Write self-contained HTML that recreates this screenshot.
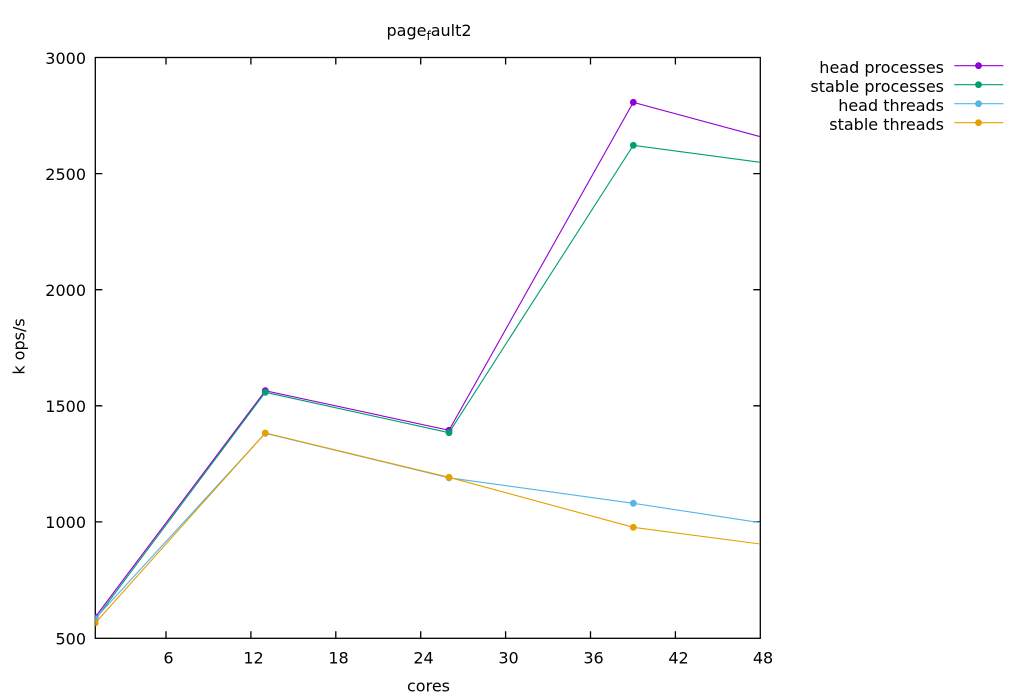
<!DOCTYPE html>
<html>
<head>
<meta charset="utf-8">
<style>
html,body{margin:0;padding:0;background:#fff;}
svg{display:block;}
text{font-family:"DejaVu Sans","Liberation Sans",sans-serif;font-size:16px;fill:#000;}
</style>
</head>
<body>
<svg width="1024" height="700" viewBox="0 0 1024 700" xmlns="http://www.w3.org/2000/svg">
<rect width="1024" height="700" fill="#fff"/>
<defs>
<clipPath id="pc"><rect x="95.3" y="57.5" width="665" height="581"/></clipPath>
</defs>

<!-- title -->
<text x="386.5" y="36">page<tspan font-size="12" dy="4">f</tspan><tspan dy="-4">ault2</tspan></text>

<!-- axes frame -->
<g stroke="#000" stroke-width="1.3" fill="none">
<rect x="95.3" y="57.5" width="665" height="580.8"/>
<path d="M95.3 521.9h7M95.3 405.8h7M95.3 289.7h7M95.3 173.6h7
         M760.3 521.9h-7M760.3 405.8h-7M760.3 289.7h-7M760.3 173.6h-7"/>
<path d="M166 638.3v-7M250.9 638.3v-7M335.8 638.3v-7M420.7 638.3v-7M505.6 638.3v-7M590.5 638.3v-7M675.4 638.3v-7
         M166 57.5v7M250.9 57.5v7M335.8 57.5v7M420.7 57.5v7M505.6 57.5v7M590.5 57.5v7M675.4 57.5v7"/>
</g>

<!-- y tick labels -->
<g text-anchor="end">
<text x="86" y="644.3">500</text>
<text x="86" y="528">1000</text>
<text x="86" y="412">1500</text>
<text x="86" y="296">2000</text>
<text x="86" y="180">2500</text>
<text x="86" y="64">3000</text>
</g>

<!-- x tick labels -->
<g text-anchor="middle">
<text x="168.5" y="663.5">6</text>
<text x="253.5" y="663.5">12</text>
<text x="338.5" y="663.5">18</text>
<text x="423.5" y="663.5">24</text>
<text x="508.5" y="663.5">30</text>
<text x="593.5" y="663.5">36</text>
<text x="678.5" y="663.5">42</text>
<text x="763" y="663.5">48</text>
</g>

<!-- axis labels -->
<text x="428.5" y="691.7" text-anchor="middle">cores</text>
<text transform="translate(24.5,346.5) rotate(-90)" text-anchor="middle">k ops/s</text>

<!-- series (gnuplot draw order) -->
<g clip-path="url(#pc)">
<polyline fill="none" stroke-width="1.1" stroke="#9400d3" points="95.3,617 265.3,390.7 449,430.3 633.3,102.3 760.3,136.7"/>
<g fill="#9400d3">
<circle cx="95.3" cy="617" r="3.4"/><circle cx="265.3" cy="390.7" r="3.4"/><circle cx="449" cy="430.3" r="3.4"/><circle cx="633.3" cy="102.3" r="3.4"/>
</g>
<polyline fill="none" stroke-width="1.1" stroke="#009e73" points="95.3,619.5 265.3,392.3 449,432.7 633.3,145.3 760.3,162.3"/>
<g fill="#009e73">
<circle cx="95.3" cy="619.5" r="3.4"/><circle cx="265.3" cy="392.3" r="3.4"/><circle cx="449" cy="432.7" r="3.4"/><circle cx="633.3" cy="145.3" r="3.4"/>
</g>
<polyline fill="none" stroke-width="1.1" stroke="#56b4e9" points="95.3,618.5 265.3,433.3 449,477.8 633.3,503.3 760.3,522.7"/>
<g fill="#56b4e9">
<circle cx="95.3" cy="618.5" r="3.4"/><circle cx="265.3" cy="433.3" r="3.4"/><circle cx="449" cy="477.8" r="3.4"/><circle cx="633.3" cy="503.3" r="3.4"/>
</g>
<polyline fill="none" stroke-width="1.1" stroke="#e69f00" points="95.3,623 265.3,433 449,477.3 633.3,527.3 760.3,544"/>
<g fill="#e69f00">
<circle cx="95.3" cy="623" r="3.4"/><circle cx="265.3" cy="433" r="3.4"/><circle cx="449" cy="477.3" r="3.4"/><circle cx="633.3" cy="527.3" r="3.4"/>
</g>
</g>

<!-- legend -->
<g text-anchor="end">
<text x="944" y="73">head processes</text>
<text x="944" y="92">stable processes</text>
<text x="944" y="111">head threads</text>
<text x="944" y="130">stable threads</text>
</g>
<g stroke-width="1.1">
<line x1="954.3" y1="65.7" x2="1003.3" y2="65.7" stroke="#9400d3"/>
<line x1="954.3" y1="84.7" x2="1003.3" y2="84.7" stroke="#009e73"/>
<line x1="954.3" y1="103.7" x2="1003.3" y2="103.7" stroke="#56b4e9"/>
<line x1="954.3" y1="122.7" x2="1003.3" y2="122.7" stroke="#e69f00"/>
</g>
<circle cx="978.5" cy="65.7" r="3.4" fill="#9400d3"/>
<circle cx="978.5" cy="84.7" r="3.4" fill="#009e73"/>
<circle cx="978.5" cy="103.7" r="3.4" fill="#56b4e9"/>
<circle cx="978.5" cy="122.7" r="3.4" fill="#e69f00"/>
</svg>
</body>
</html>
